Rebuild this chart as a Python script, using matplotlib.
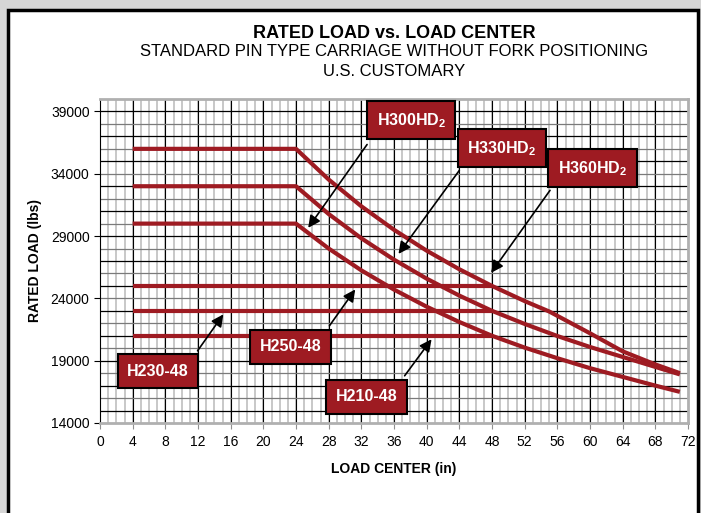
import matplotlib.pyplot as plt
import numpy as np
from matplotlib import font_manager
from matplotlib.patches import Rectangle

names = set(f.name for f in font_manager.fontManager.ttflist)
fam = 'Liberation Sans Narrow' if 'Liberation Sans Narrow' in names else 'Liberation Sans'
plt.rcParams['font.family'] = [fam, 'DejaVu Sans']
plt.rcParams['mathtext.fontset'] = 'custom'
plt.rcParams['mathtext.bf'] = fam + ':bold'
plt.rcParams['mathtext.rm'] = fam + ':bold'

# load center (in) and rated load (lbs)
lc_hd = [4, 24, 28, 32, 36, 40, 44, 48, 52, 56, 60, 64, 68, 71]
h300 = [30000, 30000, 28000, 26250, 24706, 23333, 22105, 21000, 20050, 19200, 18400, 17700, 17000, 16500]
h330 = [33000, 33000, 30770, 28823, 27107, 25584, 24223, 23000, 21950, 20980, 20100, 19300, 18500, 17900]
lc_360 = [4, 24, 28, 32, 36, 40, 44, 48, 52, 55, 60, 64, 68, 71]
h360 = [36000, 36000, 33538, 31392, 29504, 27830, 26336, 25000, 23782, 22950, 21200, 19750, 18700, 18000]
lc_flat = [4, 48]
h250 = [25000, 25000]
h230 = [23000, 23000]
h210 = [21000, 21000]

red = '#9e1b22'

fig = plt.figure(figsize=(7.01, 5.13), dpi=100, facecolor='#d6d6d6')
fig.patches.append(Rectangle((8 / 701, -0.1), 690 / 701, 1.1 - 10 / 513, transform=fig.transFigure,
                             facecolor='white', edgecolor='black', linewidth=2.5, zorder=-5))
ax = fig.add_axes([100 / 701, 1 - 423 / 513, 588 / 701, 324 / 513])
ax.set_zorder(1)

ax.set_xlim(0, 72)
ax.set_ylim(14000, 40000)
ax.set_xticks(np.arange(0, 73, 4))
ax.set_yticks(np.arange(14000, 40000, 5000))

for v in range(1, 72):
    ax.axvline(v, color='#c8c8c8', lw=1.4, zorder=1)
for v in range(4, 72, 4):
    ax.axvline(v, color='black', lw=0.8, zorder=1.5)
for v in range(15000, 40000, 1000):
    c = 'black' if v % 2000 else '#7a7a7a'
    ax.axhline(v, color=c, lw=0.9, zorder=1.5)

for s in ['top', 'right', 'bottom']:
    ax.spines[s].set_color('#b0b0b0')
    ax.spines[s].set_linewidth(2)
ax.spines['left'].set_color('black')
ax.tick_params(axis='y', which='major', length=4, width=0.8, labelsize=10)
ax.tick_params(axis='x', which='major', length=4, width=0.8, color='#909090', labelsize=10, pad=5)

ax.plot(lc_360, h360, color=red, lw=3, zorder=3, solid_capstyle='butt')
ax.plot(lc_hd, h330, color=red, lw=3, zorder=3, solid_capstyle='butt')
ax.plot(lc_hd, h300, color=red, lw=3, zorder=3, solid_capstyle='butt')
for y in [h250, h230, h210]:
    ax.plot(lc_flat, y, color=red, lw=3, zorder=3, solid_capstyle='butt')

ax.set_xlabel('LOAD CENTER (in)', fontsize=10, fontweight='bold', labelpad=9)
ax.set_ylabel('RATED LOAD (lbs)', fontsize=10, fontweight='bold', labelpad=6)

fig.text(394 / 701, 1 - 33 / 513, 'RATED LOAD vs. LOAD CENTER', ha='center', va='center',
         fontsize=13, fontweight='bold')
fig.text(394 / 701, 1 - 52 / 513, 'STANDARD PIN TYPE CARRIAGE WITHOUT FORK POSITIONING',
         ha='center', va='center', fontsize=12)
fig.text(394 / 701, 1 - 72 / 513, 'U.S. CUSTOMARY', ha='center', va='center', fontsize=12)

labels = [
    (r'H300HD$_\mathbf{2}$', (38.1, 38300), (32.9, 36530), (25.3, 29480)),
    (r'H330HD$_\mathbf{2}$', (49.2, 36050), (44.2, 34450), (36.35, 27390)),
    (r'H360HD$_\mathbf{2}$', (60.3, 34450), (55.3, 32850), (47.7, 25870)),
    ('H230-48', (7.1, 18170), (11.75, 19610), (15.3, 22900)),
    ('H250-48', (23.3, 20100), (27.9, 21620), (31.45, 24900)),
    ('H210-48', (32.6, 16090), (37.1, 17610), (40.8, 20900)),
]
for txt, pos, tail, tip in labels:
    ax.annotate('', xy=tip, xytext=tail, zorder=4,
                arrowprops=dict(arrowstyle='-|>', color='black', lw=1.2, mutation_scale=18))
    ax.text(pos[0], pos[1], txt, ha='center', va='center', color='white', fontsize=11.5,
            fontweight='bold', zorder=5,
            bbox=dict(boxstyle='square,pad=0.6', facecolor=red, edgecolor='black', linewidth=1.5))

fig.savefig('out.png', dpi=100, facecolor=fig.get_facecolor())
